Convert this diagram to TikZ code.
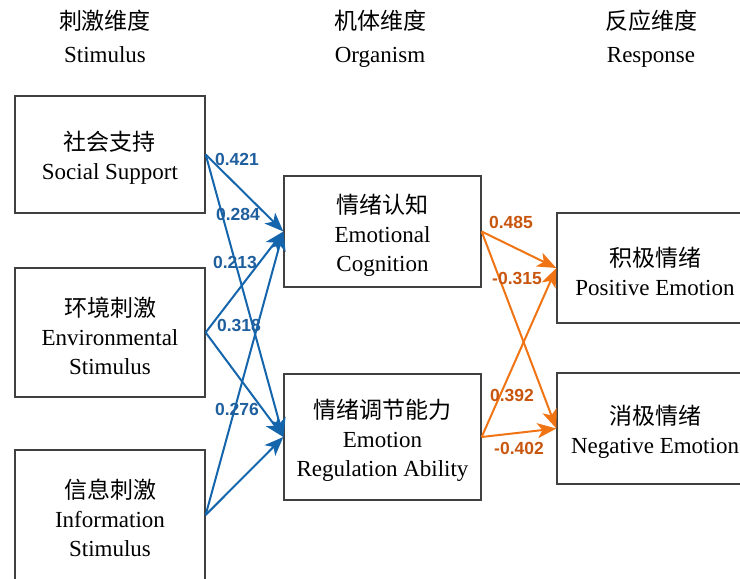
\documentclass[tikz,border=0pt]{standalone}
\usepackage{fontspec}
\setmainfont{Liberation Serif}
\setsansfont{Liberation Sans}
\newfontfamily\cjk{Noto Sans CJK SC}
\usetikzlibrary{arrows.meta}
\definecolor{bl}{HTML}{1565AD}
\definecolor{bltx}{HTML}{1F5F9E}
\definecolor{orl}{HTML}{F07414}
\definecolor{ortx}{HTML}{C8560E}
\definecolor{edgec}{HTML}{404040}
\newcommand{\tstrut}{\rule{0pt}{26pt}}
\begin{document}
\begin{tikzpicture}[x=1pt,y=-1pt,
  box/.style={draw=edgec,line width=1.3pt,align=center,inner sep=0pt,
    font=\fontsize{23}{29}\selectfont},
  head/.style={inner sep=0pt,font=\fontsize{23}{29}\selectfont},
  bar/.style={line width=2pt,draw=bl,-{Stealth[length=19pt,width=15pt,inset=5pt]}},
  oar/.style={line width=2pt,draw=orl,-{Stealth[length=19pt,width=15pt,inset=5pt]}},
  bnum/.style={inner sep=0pt,text=bltx,font=\sffamily\bfseries\fontsize{17.5}{17.5}\selectfont},
  onum/.style={inner sep=0pt,text=ortx,font=\sffamily\bfseries\fontsize{17.5}{17.5}\selectfont}]
\clip (0,0) rectangle (740,579);
% headings
\node[head] (h1c) at (105,21) {\cjk 刺激维度};
\node[head,anchor=base] (h1e) at (105,62) {Stimulus};
\node[head] (h2c) at (380,21) {\cjk 机体维度};
\node[head,anchor=base] (h2e) at (380,62) {Organism};
\node[head] (h3c) at (651,21) {\cjk 反应维度};
\node[head,anchor=base] (h3e) at (651,62) {Response};
% boxes
\node[box,minimum width=190pt,minimum height=117pt] (ss) at (110,154.5) {\tstrut{\cjk 社会支持}\\Social Support};
\node[box,minimum width=190pt,minimum height=129pt] (env) at (110,332.5) {\tstrut{\cjk 环境刺激}\\Environmental\\Stimulus};
\node[box,minimum width=190pt,minimum height=130pt] (info) at (110,515) {\tstrut{\cjk 信息刺激}\\Information\\Stimulus};
\node[box,minimum width=197pt,minimum height=111pt] (ec) at (382.5,231.5) {\tstrut{\cjk 情绪认知}\\Emotional\\Cognition};
\node[box,minimum width=197pt,minimum height=126pt] (era) at (382.5,437) {\tstrut{\cjk 情绪调节能力}\\Emotion\\Regulation Ability};
\node[box,minimum width=196pt,minimum height=110pt] (pe) at (655,268) {\tstrut{\cjk 积极情绪}\\Positive Emotion};
\node[box,minimum width=196pt,minimum height=111pt] (ne) at (655,428.5) {\tstrut{\cjk 消极情绪}\\Negative Emotion};
% blue arrows
\draw[bar] (ss.east) -- (ec.west);
\draw[bar] (ss.east) -- (era.west);
\draw[bar] (env.east) -- (ec.west);
\draw[bar] (env.east) -- (era.west);
\draw[bar] (info.east) -- (ec.west);
\draw[bar] (info.east) -- (era.west);
% orange arrows
\draw[oar] (ec.east) -- (pe.west);
\draw[oar] (ec.east) -- (ne.west);
\draw[oar] (era.east) -- (pe.west);
\draw[oar] (era.east) -- (ne.west);
% labels
\node[bnum] (l1) at (237,159) {0.421};
\node[bnum] (l2) at (238,214) {0.284};
\node[bnum] (l3) at (235,262) {0.213};
\node[bnum] (l4) at (239,325) {0.318};
\node[bnum] (l5) at (237,409) {0.276};
\node[onum] (o1) at (511,222) {0.485};
\node[onum] (o2) at (517,278) {-0.315};
\node[onum] (o3) at (512,395) {0.392};
\node[onum] (o4) at (519,448) {-0.402};
\end{tikzpicture}
\end{document}
